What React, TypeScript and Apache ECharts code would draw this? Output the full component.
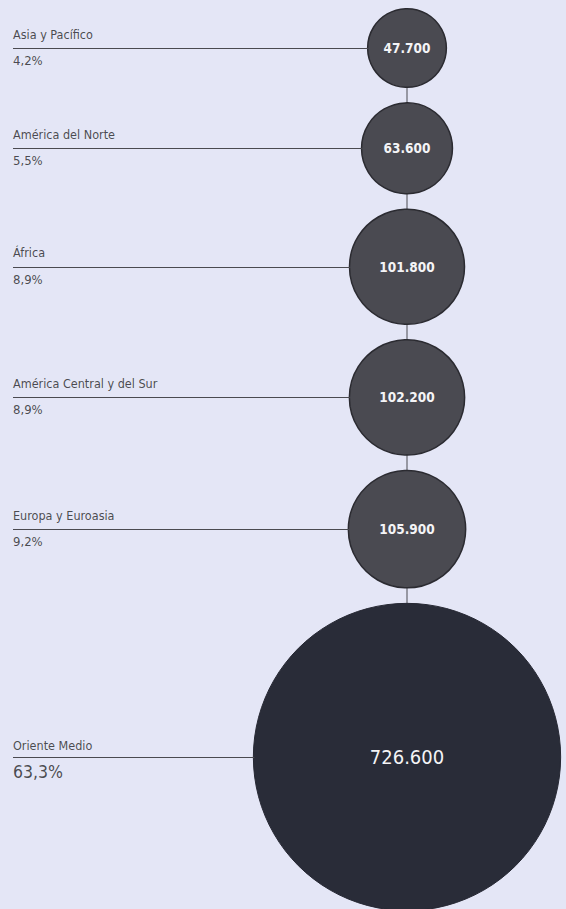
import React, { useEffect, useRef } from "react";
import * as echarts from "echarts";

const regions = [
  "Asia y Pacífico",
  "América del Norte",
  "África",
  "América Central y del Sur",
  "Europa y Euroasia",
  "Oriente Medio",
];
const values = [47.7, 63.6, 101.8, 102.2, 105.9, 726.6];
const valueLabels = ["47.700", "63.600", "101.800", "102.200", "105.900", "726.600"];
const shares = ["4,2%", "5,5%", "8,9%", "8,9%", "9,2%", "63,3%"];

const W = 566;
const H = 909;
const K = 5.7; // radius per sqrt(value)
const GAP = 15.5;
const FIRST_Y = 48;
const CX = 407;
const LEFT_X = 13;
const FONT = "'DejaVu Sans Condensed', 'Liberation Sans Narrow', 'Noto Sans', sans-serif";

export default function App() {
  const ref = useRef<HTMLDivElement>(null);

  useEffect(() => {
    document.body.style.margin = "0";
    const chart = echarts.init(ref.current!, null, { renderer: "svg" });

    const radii = values.map((v) => K * Math.sqrt(v));
    const centers: number[] = [];
    radii.forEach((r, i) => {
      if (i === 0) centers.push(FIRST_Y);
      else centers.push(centers[i - 1] + radii[i - 1] + GAP + r);
    });
    const last = values.length - 1;

    chart.setOption({
      animation: false,
      backgroundColor: "#e4e6f6",
      grid: { left: 0, right: 0, top: 0, bottom: 0 },
      xAxis: { type: "value", min: 0, max: W, show: false },
      yAxis: { type: "value", min: 0, max: H, inverse: true, show: false },
      series: [
        {
          type: "line",
          z: 1,
          symbol: "none",
          silent: true,
          lineStyle: { color: "#4a4a50", width: 1 },
          data: [
            [CX, centers[0]],
            [CX, centers[last]],
          ],
          markLine: {
            silent: true,
            symbol: ["none", "none"],
            label: { show: false },
            lineStyle: { color: "#4a4a50", width: 1, type: "solid" },
            data: centers.map((y, i) => [
              { coord: [LEFT_X, y] },
              { coord: [CX - radii[i] + 1, y] },
            ]),
          },
        },
        {
          type: "scatter",
          z: 3,
          silent: true,
          symbol: "circle",
          symbolSize: (val: number[]) => 2 * K * Math.sqrt(val[2]),
          data: values.map((v, i) => ({
            value: [CX, centers[i], v],
            itemStyle:
              i === last
                ? { color: "#292c38", borderColor: "#262833", borderWidth: 1, opacity: 1 }
                : { color: "#4a4a51", borderColor: "#2b2b31", borderWidth: 1.5, opacity: 1 },
            label:
              i === last
                ? { fontSize: 20, fontWeight: "normal" }
                : { fontSize: 13.5, fontWeight: "bold" },
          })),
          label: {
            show: true,
            position: "inside",
            formatter: (p: any) => valueLabels[p.dataIndex],
            color: "#f4f4f6",
            textBorderWidth: 0,
            fontFamily: FONT,
            fontSize: 13.5,
          },
        },
        {
          type: "scatter",
          z: 2,
          silent: true,
          symbolSize: 0,
          data: centers.map((y, i) => ({
            value: [LEFT_X, y],
            label: { offset: [0, i === last ? -5 : -7.5] },
          })),
          label: {
            show: true,
            position: [0, 0],
            align: "left",
            verticalAlign: "bottom",
            formatter: (p: any) => regions[p.dataIndex],
            color: "#1f1f25",
            fontFamily: FONT,
            fontSize: 12.5,
            lineHeight: 13,
          },
        },
        {
          type: "scatter",
          z: 2,
          silent: true,
          symbolSize: 0,
          data: centers.map((y, i) => ({
            value: [LEFT_X, y],
            label:
              i === last
                ? { fontSize: 17.5, lineHeight: 18, offset: [0, 5.5] }
                : { offset: [0, 6] },
          })),
          label: {
            show: true,
            position: [0, 0],
            align: "left",
            verticalAlign: "top",
            formatter: (p: any) => shares[p.dataIndex],
            color: "#1f1f25",
            fontFamily: FONT,
            fontSize: 13,
            lineHeight: 13,
          },
        },
      ],
    });

    return () => chart.dispose();
  }, []);

  return <div ref={ref} style={{ width: W, height: H }} />;
}
